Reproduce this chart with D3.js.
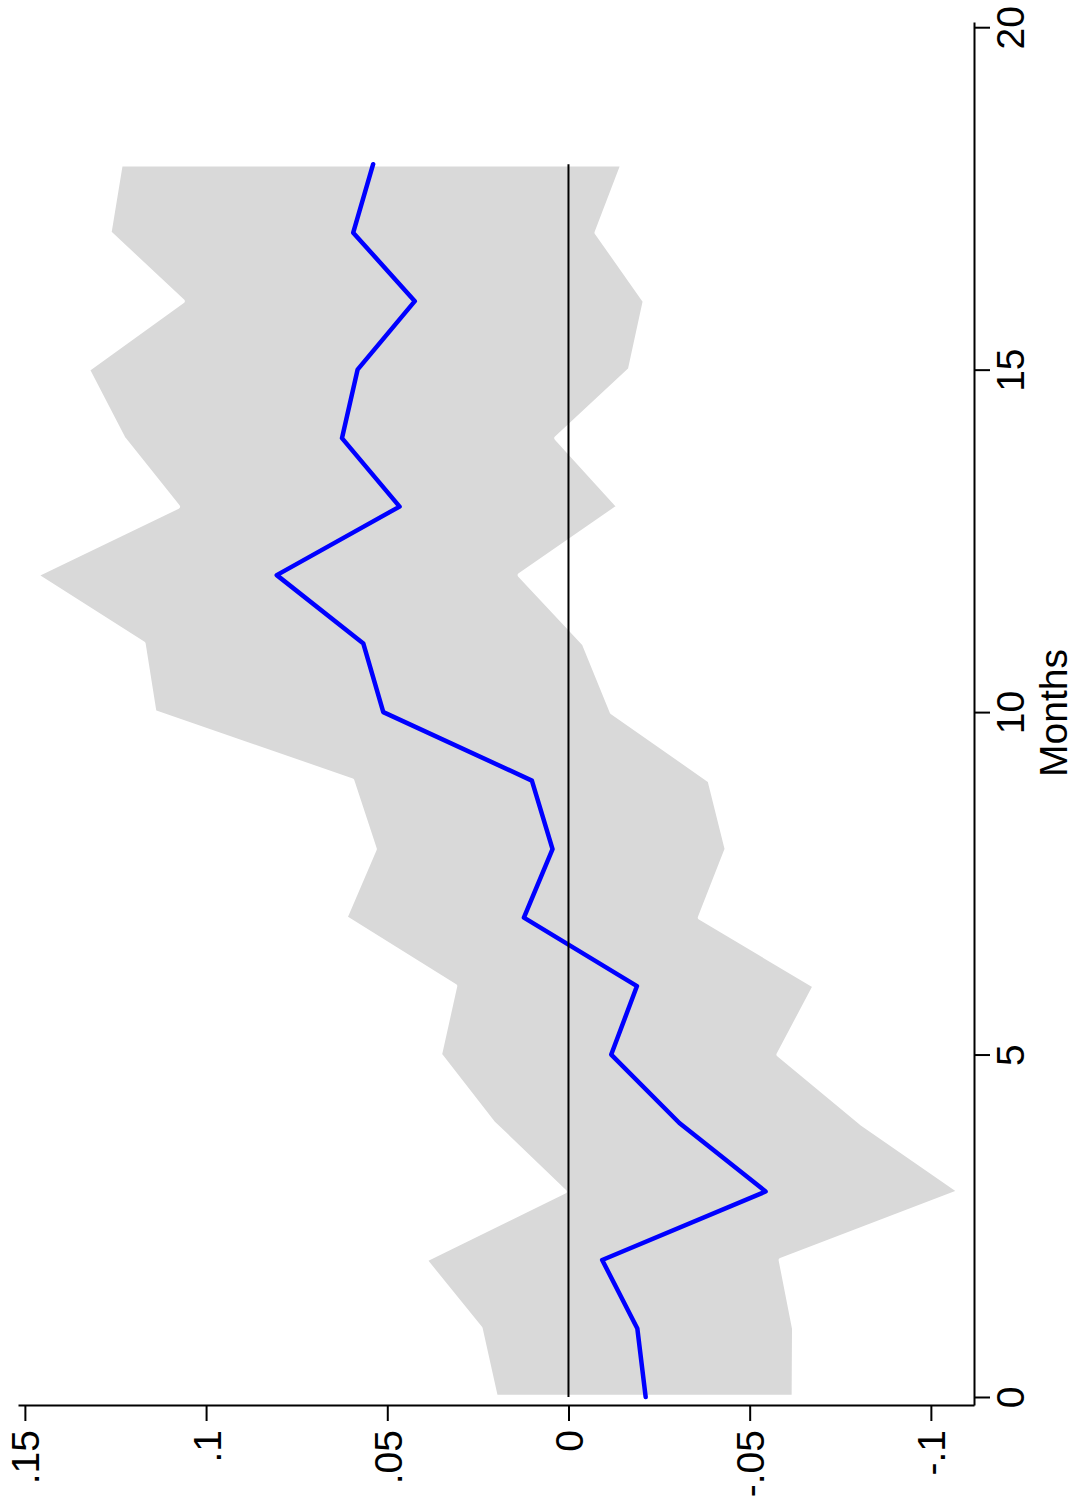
<!DOCTYPE html>
<html>
<head>
<meta charset="utf-8">
<script src="https://cdn.jsdelivr.net/npm/d3@7"></script>
<style>
  html, body { margin: 0; padding: 0; background: #fff; }
  svg text { font-family: "Liberation Sans", Arial, Helvetica, sans-serif; fill: #000; }
</style>
</head>
<body>
<svg id="chart" width="1076" height="1507"></svg>
<script>
// mois (axe vertical, à droite)
var months = [0, 1, 2, 3, 4, 5, 6, 7, 8, 9, 10, 11, 12, 13, 14, 15, 16, 17, 18];
// estimation ponctuelle (ligne bleue)
var estimate = [-0.0213, -0.0190, -0.0093, -0.0544, -0.0306, -0.0118, -0.0189, 0.0123, 0.0044, 0.0101,
                0.0511, 0.0566, 0.0805, 0.0466, 0.0625, 0.0582, 0.0424, 0.0594, 0.0539];
// bornes de l'intervalle de confiance
var upper = [0.0201, 0.0243, 0.0396, 0.0011, 0.0208, 0.0355, 0.0313, 0.0616, 0.0535, 0.0597,
             0.1143, 0.1173, 0.1470, 0.1078, 0.1229, 0.1327, 0.1065, 0.1267, 0.1236];
var lower = [-0.0622, -0.0623, -0.0586, -0.1080, -0.0808, -0.0580, -0.0680, -0.0363, -0.0437, -0.0390,
             -0.0120, -0.0043, 0.0134, -0.0139, 0.0033, -0.0170, -0.0211, -0.0078, -0.0150];

// graduations
var monthTicks = [0, 5, 10, 15, 20];
var valueTicks = [0.15, 0.1, 0.05, 0, -0.05, -0.1];
var valueTickLabels = [".15", ".1", ".05", "0", "-.05", "-.1"];

// étendue des axes (région du graphique)
var valueExtent = [-0.1119, 0.1519];
var monthExtent = [-0.117, 20.076];

var svg = d3.select("#chart");

// le graphique est tourné : les valeurs vont de droite à gauche, les mois de bas en haut
var xScale = d3.scaleLinear().domain(valueExtent).range([974, 18]);
var yScale = d3.scaleLinear().domain(monthExtent).range([1405, 22]);

var rows = months.map(function(m, i){
	return {m: m, est: estimate[i], lo: lower[i], hi: upper[i]};
});

// bande grise de l'intervalle de confiance
var band = d3.area()
	.y(function(d){ return yScale(d.m); })
	.x0(function(d){ return xScale(d.lo); })
	.x1(function(d){ return xScale(d.hi); });

svg.append("path")
	.datum(rows)
	.attr("d", band)
	.attr("fill", "#d9d9d9")
	.attr("stroke", "#ffffff")
	.attr("stroke-width", 4.5)
	.attr("stroke-linejoin", "round");

// ligne de l'estimation
var line = d3.line()
	.y(function(d){ return yScale(d.m); })
	.x(function(d){ return xScale(d.est); });

svg.append("path")
	.datum(rows)
	.attr("d", line)
	.attr("fill", "none")
	.attr("stroke", "#0000ff")
	.attr("stroke-width", 4.5)
	.attr("stroke-linejoin", "round")
	.attr("stroke-linecap", "round");

// ligne de référence à zéro
var zeroLine = d3.line()
	.y(function(d){ return yScale(d.m); })
	.x(function(d){ return xScale(0); });

svg.append("path")
	.datum(rows)
	.attr("d", zeroLine)
	.attr("fill", "none")
	.attr("stroke", "#000")
	.attr("stroke-width", 2);

// axe des valeurs (en bas)
var xAxis = g => g
	.attr("transform", "translate(0,1405)")
	.call(d3.axisBottom(xScale)
		.tickValues(valueTicks)
		.tickFormat(function(d, i){ return valueTickLabels[i]; })
		.tickSize(16)
		.tickSizeOuter(0));

var gx = svg.append("g").call(xAxis);
gx.selectAll("text")
	.attr("x", null).attr("y", null).attr("dy", null)
	.attr("transform", "translate(14,25) rotate(-90)")
	.attr("text-anchor", "end")
	.style("font-size", "39px");

// axe des mois (à droite)
var yAxis = g => g
	.attr("transform", "translate(974,0)")
	.call(d3.axisRight(yScale)
		.tickValues(monthTicks)
		.tickFormat(d3.format("d"))
		.tickSize(16)
		.tickSizeOuter(0));

var gy = svg.append("g").call(yAxis);
gy.selectAll("text")
	.attr("x", null).attr("y", null).attr("dy", null)
	.attr("transform", "translate(50,0) rotate(-90)")
	.attr("text-anchor", "middle")
	.style("font-size", "39px");

svg.selectAll(".domain, .tick line")
	.attr("stroke", "#000")
	.attr("stroke-width", 2);
svg.selectAll(".tick text").attr("fill", "#000");

// titre de l'axe des mois
svg.append("text")
	.attr("transform", "translate(1067,713) rotate(-90)")
	.attr("text-anchor", "middle")
	.style("font-size", "39px")
	.text("Months");
</script>
</body>
</html>
